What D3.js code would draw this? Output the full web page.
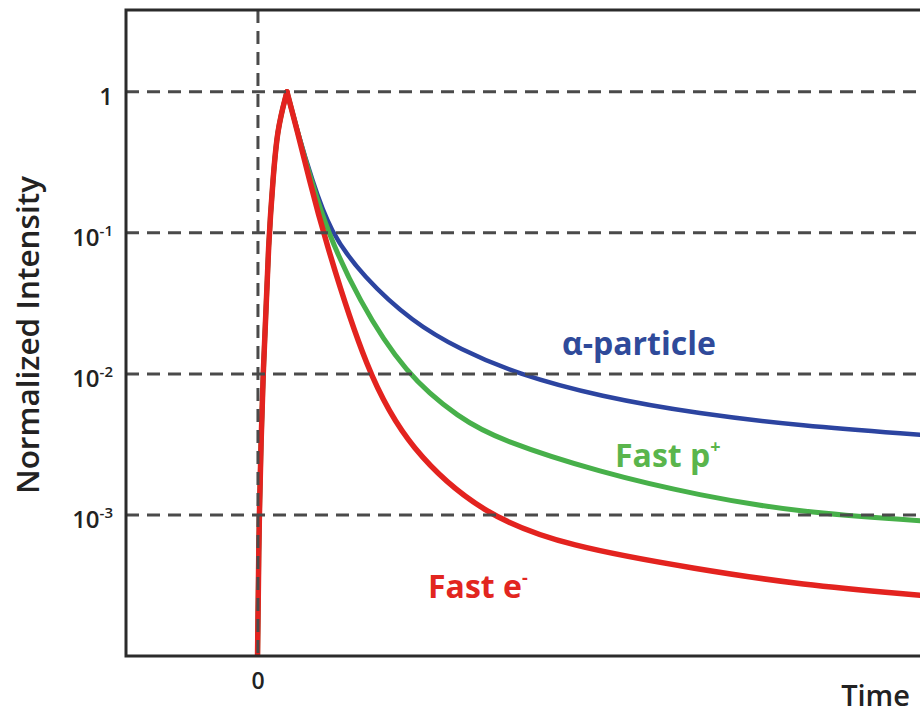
<!DOCTYPE html>
<html>
<head>
<meta charset="utf-8">
<script src="https://cdn.jsdelivr.net/npm/d3@7"></script>
<style>
  body { margin: 0; background: #fff; }
  svg { display: block; font-family: "Open Sans", sans-serif; }
</style>
</head>
<body>
<div id="chart"></div>
<script>
const width = 920;
const height = 717;
const plot = { left: 126, top: 10, right: 925, bottom: 656 };

// shared rising edge up to the peak (time in arbitrary units, 0 = excitation)
const riseTime = [-0.03, 0.034, 0.17, 0.38, 0.52, 0.66, 1.0];
const riseValue = [5e-5, 1e-3, 1e-2, 0.1, 0.238, 0.54, 1];

// decay tails, starting at the peak
const electronTime = [1.0, 1.345, 1.776, 2.24, 3.76, 5.24, 7.76, 10.66, 15.24, 18.69, 22.83];
const electronValue = [1, 0.538, 0.238, 0.1, 0.01, 0.0029, 0.001, 0.0006, 0.00041, 0.00032, 0.00027];

const protonTime = [1.0, 1.345, 1.828, 2.41, 3.45, 5.07, 6.97, 8.34, 11.79, 15.24, 18.69, 22.83];
const protonValue = [1, 0.538, 0.238, 0.1, 0.034, 0.01, 0.0048, 0.0034, 0.002, 0.00137, 0.00104, 0.00091];

const alphaTime = [1.0, 1.345, 1.862, 2.48, 3.62, 5.34, 6.97, 8.93, 11.79, 15.24, 18.69, 22.83];
const alphaValue = [1, 0.538, 0.238, 0.102, 0.049, 0.0232, 0.0149, 0.01, 0.0069, 0.0052, 0.0043, 0.0037];

const yTicks = [1, 0.1, 0.01, 0.001];
const yTickBase = ["1", "10", "10", "10"];
const yTickExp = ["", "-1", "-2", "-3"];

const series = [
  { name: "α-particle", sup: "", time: alphaTime, value: alphaValue, color: "#2c44a0", label: "#2f4a9a", width: 4.5, lx: 562, ly: 355 },
  { name: "Fast p", sup: "+", time: protonTime, value: protonValue, color: "#47b04a", label: "#5ab54c", width: 5, lx: 615, ly: 467 },
  { name: "Fast e", sup: "-", time: electronTime, value: electronValue, color: "#e3231f", label: "#e2261f", width: 5.5, lx: 428, ly: 598 }
];

const x = d3.scaleLinear().domain([-4.55, 23]).range([plot.left, plot.right]);
const y = d3.scaleLog().domain([1e-4, Math.pow(10, 0.58)]).range([plot.bottom, plot.top]);

const svg = d3.select("#chart").append("svg")
  .attr("width", width)
  .attr("height", height);

svg.append("clipPath").attr("id", "clip")
  .append("rect")
  .attr("x", plot.left)
  .attr("y", plot.top)
  .attr("width", plot.right - plot.left)
  .attr("height", plot.bottom - plot.top);

// Draw curves: rise and decay as separate pieces so the peak stays pointed
const line = d3.line()
  .x((d) => x(d[0]))
  .y((d) => y(d[1]))
  .curve(d3.curveBasis);

const curves = svg.append("g").attr("clip-path", "url(#clip)");
series.forEach((s) => {
  const pieces = [d3.zip(riseTime, riseValue), d3.zip(s.time, s.value)];
  curves.append("g")
    .selectAll("path")
    .data(pieces)
    .join("path")
    .attr("d", line)
    .attr("fill", "none")
    .attr("stroke", s.color)
    .attr("stroke-width", s.width)
    .attr("stroke-linejoin", "round")
    .attr("stroke-linecap", "round");
});

// Dashed grid lines
const dash = "13,8";
svg.append("g")
  .selectAll("line")
  .data(yTicks)
  .join("line")
  .attr("x1", plot.left)
  .attr("x2", plot.right)
  .attr("y1", (d) => y(d))
  .attr("y2", (d) => y(d))
  .attr("stroke", "#4a4a4a")
  .attr("stroke-width", 3)
  .attr("stroke-dasharray", dash);

svg.append("line")
  .attr("x1", x(0))
  .attr("x2", x(0))
  .attr("y1", plot.top)
  .attr("y2", plot.bottom)
  .attr("stroke", "#4a4a4a")
  .attr("stroke-width", 3)
  .attr("stroke-dasharray", dash);

// Frame
svg.append("rect")
  .attr("x", plot.left)
  .attr("y", plot.top)
  .attr("width", plot.right - plot.left)
  .attr("height", plot.bottom - plot.top)
  .attr("fill", "none")
  .attr("stroke", "#2b2b2b")
  .attr("stroke-width", 3);

// Y tick labels
const yLabels = svg.append("g")
  .selectAll("text")
  .data(yTicks)
  .join("text")
  .attr("x", 113)
  .attr("y", (d) => y(d) + 13)
  .attr("text-anchor", "end")
  .attr("font-size", 24)
  .attr("font-weight", 600)
  .attr("fill", "#222");
yLabels.append("tspan").text((d, i) => yTickBase[i]);
yLabels.append("tspan")
  .attr("font-size", 15)
  .attr("dy", -10)
  .text((d, i) => yTickExp[i]);

// X tick label
svg.append("text")
  .attr("x", x(0))
  .attr("y", 689)
  .attr("text-anchor", "middle")
  .attr("font-size", 23)
  .attr("font-weight", 600)
  .attr("fill", "#222")
  .text("0");

// Axis titles
svg.append("text")
  .attr("transform", "translate(39, 335) rotate(-90)")
  .attr("text-anchor", "middle")
  .attr("font-size", 31.5)
  .attr("font-weight", 600)
  .attr("fill", "#222")
  .text("Normalized Intensity");

svg.append("text")
  .attr("x", 910)
  .attr("y", 706)
  .attr("text-anchor", "end")
  .attr("font-size", 29)
  .attr("font-weight", 600)
  .attr("fill", "#222")
  .text("Time");

// Series labels
series.forEach((s) => {
  const t = svg.append("text")
    .attr("x", s.lx)
    .attr("y", s.ly)
    .attr("font-size", 32)
    .attr("font-weight", 700)
    .attr("fill", s.label);
  t.append("tspan").text(s.name);
  if (s.sup) {
    t.append("tspan")
      .attr("font-size", 18)
      .attr("dy", -14)
      .text(s.sup);
  }
});
</script>
</body>
</html>
